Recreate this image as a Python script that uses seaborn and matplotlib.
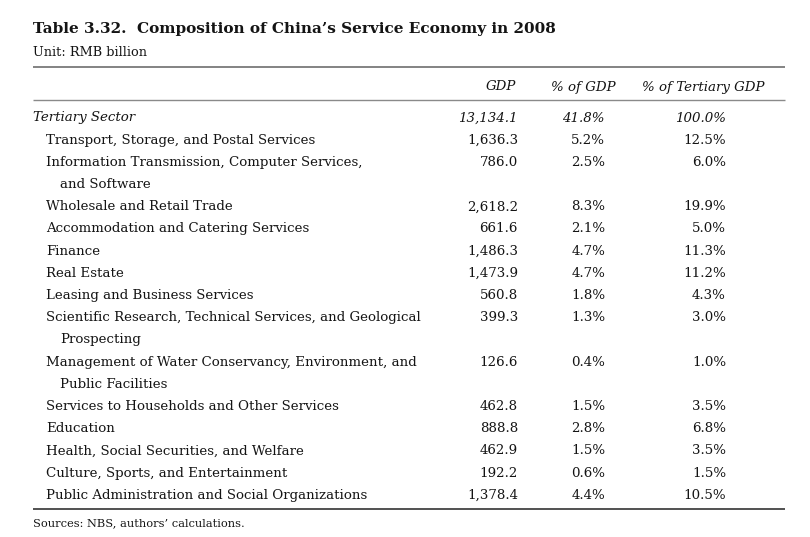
import matplotlib
matplotlib.use("Agg")
import matplotlib.pyplot as plt
import seaborn as sns

# Table 3.32 data (RMB billion)
total_label = "Tertiary Sector"
total_gdp = 13134.1
total_pct_gdp = 41.8
total_pct_tertiary = 100.0

sectors = [
    "Transport, Storage, and Postal Services",
    "Information Transmission, Computer Services,\nand Software",
    "Wholesale and Retail Trade",
    "Accommodation and Catering Services",
    "Finance",
    "Real Estate",
    "Leasing and Business Services",
    "Scientific Research, Technical Services, and Geological\nProspecting",
    "Management of Water Conservancy, Environment, and\nPublic Facilities",
    "Services to Households and Other Services",
    "Education",
    "Health, Social Securities, and Welfare",
    "Culture, Sports, and Entertainment",
    "Public Administration and Social Organizations",
]
gdp = [1636.3, 786.0, 2618.2, 661.6, 1486.3, 1473.9, 560.8, 399.3, 126.6,
       462.8, 888.8, 462.9, 192.2, 1378.4]
pct_gdp = [5.2, 2.5, 8.3, 2.1, 4.7, 4.7, 1.8, 1.3, 0.4, 1.5, 2.8, 1.5, 0.6, 4.4]
pct_tertiary = [12.5, 6.0, 19.9, 5.0, 11.3, 11.2, 4.3, 3.0, 1.0, 3.5, 6.8,
                3.5, 1.5, 10.5]

headers = ["GDP", "% of GDP", "% of Tertiary GDP"]

sns.set_theme(style="white")
plt.rcParams['font.family'] = ['DejaVu Serif']

fig = plt.figure(figsize=(8.1, 5.37), dpi=100)
ax = fig.add_axes([0, 0, 1, 1])
ax.set_xlim(0, 810)
ax.set_ylim(537, 0)
ax.axis('off')

ink = '#141414'
body = 9.6

ax.text(33, 29, "Table 3.32.  Composition of China\u2019s Service Economy in 2008",
        fontsize=11.0, fontweight='bold', color=ink, va='center')
ax.text(33, 53, "Unit: RMB billion", fontsize=9.3, color=ink, va='center')

ax.hlines(67, 33, 785, color='#6e6e6e', lw=1.2)
ax.hlines(100, 33, 785, color='#8a8a8a', lw=1.0)
ax.hlines(509, 33, 785, color='#333333', lw=1.2)

# column headers
col_centers = [501, 583, 703]
for h, cx in zip(headers, col_centers):
    ax.text(cx, 87, h, fontsize=body, style='italic', color=ink,
            ha='center', va='center')

col_right = [518, 605, 726]
row_h = 22.2
y = 118

ax.text(33, y, total_label, fontsize=body, style='italic', color=ink, va='center')
ax.text(col_right[0], y, f"{total_gdp:,.1f}", fontsize=body, style='italic',
        color=ink, ha='right', va='center')
ax.text(col_right[1], y, f"{total_pct_gdp:.1f}%", fontsize=body, style='italic',
        color=ink, ha='right', va='center')
ax.text(col_right[2], y, f"{total_pct_tertiary:.1f}%", fontsize=body, style='italic',
        color=ink, ha='right', va='center')
y += row_h

for name, g, p1, p2 in zip(sectors, gdp, pct_gdp, pct_tertiary):
    lines = name.split("\n")
    ax.text(46, y, lines[0], fontsize=body, color=ink, va='center')
    ax.text(col_right[0], y, f"{g:,.1f}", fontsize=body, color=ink,
            ha='right', va='center')
    ax.text(col_right[1], y, f"{p1:.1f}%", fontsize=body, color=ink,
            ha='right', va='center')
    ax.text(col_right[2], y, f"{p2:.1f}%", fontsize=body, color=ink,
            ha='right', va='center')
    y += row_h
    for extra in lines[1:]:
        ax.text(60, y, extra, fontsize=body, color=ink, va='center')
        y += row_h

ax.text(33, 523, "Sources: NBS, authors\u2019 calculations.", fontsize=8.2,
        color=ink, va='center')

fig.savefig("out.png", dpi=100, facecolor='white')
